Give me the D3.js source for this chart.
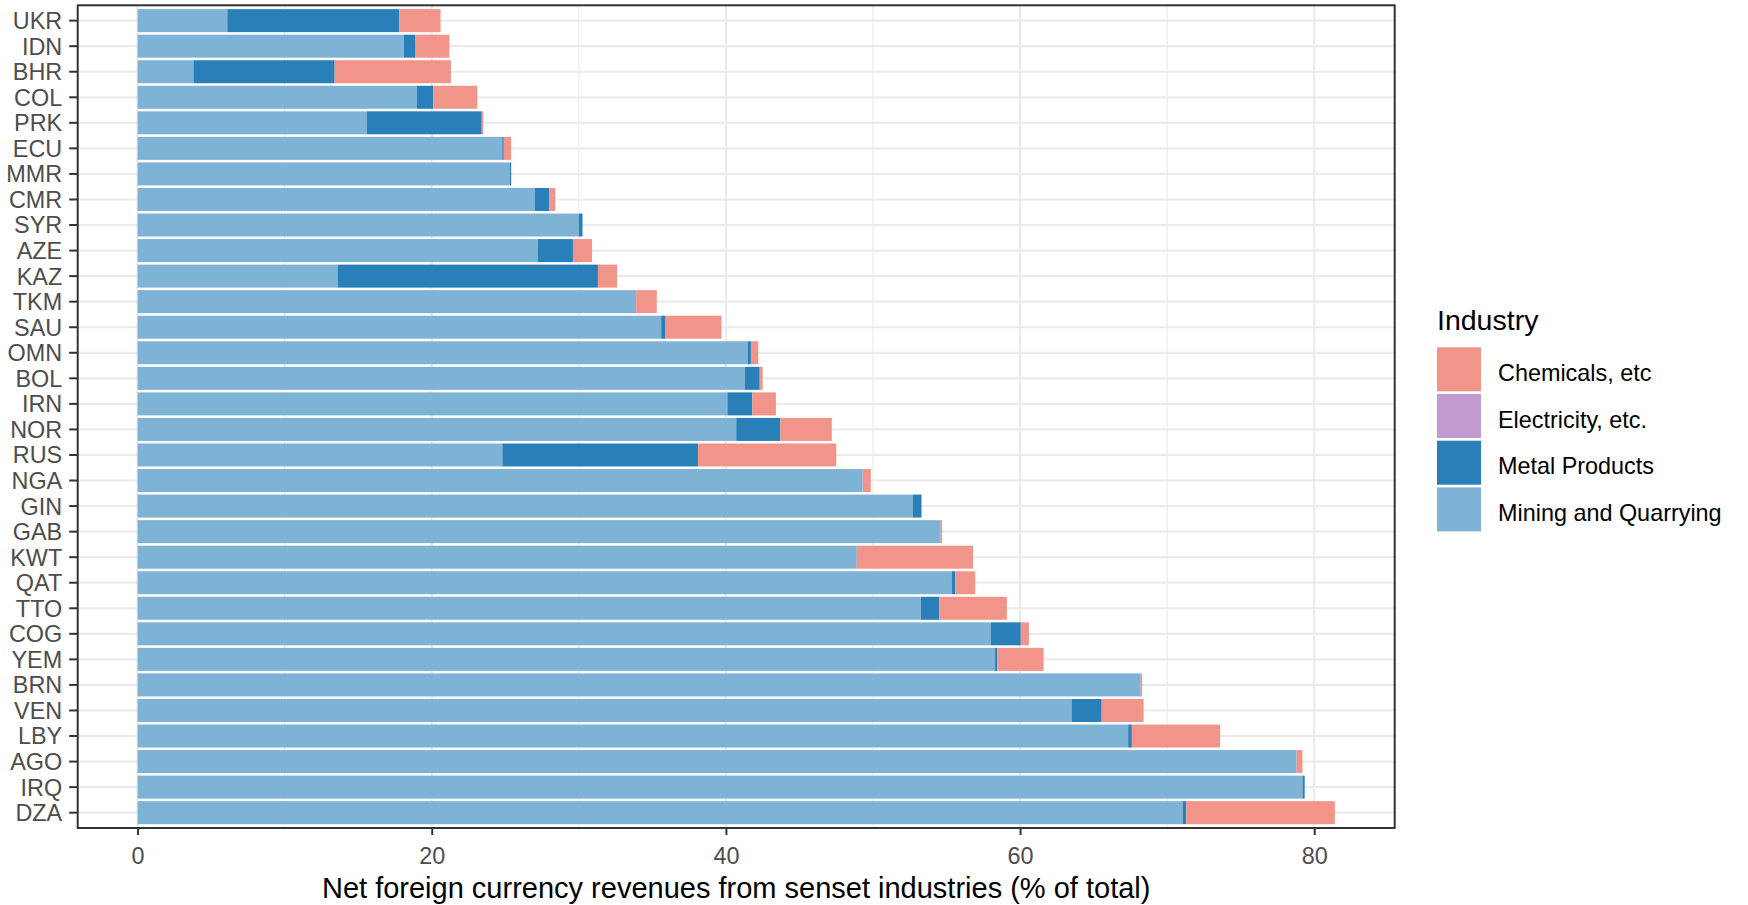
<!DOCTYPE html>
<html>
<head>
<meta charset="utf-8">
<script src="https://cdn.jsdelivr.net/npm/d3@7"></script>
<style>
  html, body { margin: 0; padding: 0; background: #ffffff; }
  svg { display: block; font-family: "Liberation Sans", Arial, sans-serif; }
</style>
</head>
<body>
<svg id="chart" width="1748" height="905"></svg>
<script>
// ---- Data ----
const countries = ["UKR","IDN","BHR","COL","PRK","ECU","MMR","CMR","SYR","AZE","KAZ","TKM","SAU","OMN","BOL","IRN","NOR","RUS","NGA","GIN","GAB","KWT","QAT","TTO","COG","YEM","BRN","VEN","LBY","AGO","IRQ","DZA"];
const mining      = [6.1,18.1,3.8,19.0,15.6,24.8,25.3,27.0,30.0,27.2,13.6,33.9,35.6,41.5,41.3,40.1,40.7,24.8,49.3,52.7,54.6,48.9,55.35,53.25,58.0,58.3,68.2,63.5,67.35,78.8,79.2,71.05];
const metal       = [11.7,0.8,9.6,1.1,7.8,0.1,0.1,1.0,0.25,2.4,17.7,0,0.3,0.2,1.0,1.7,3.0,13.3,0,0.6,0,0,0.25,1.25,2.05,0.15,0,2.05,0.25,0,0.15,0.25];
const electricity = [0,0,0,0,0,0,0,0,0,0,0,0,0,0,0,0,0,0,0,0,0,0,0,0,0,0,0,0,0,0,0,0];
const chemicals   = [2.8,2.3,7.9,3.0,0.1,0.5,0,0.4,0,1.3,1.3,1.4,3.8,0.5,0.2,1.6,3.5,9.4,0.55,0,0.1,7.9,1.35,4.6,0.55,3.15,0.1,2.85,6.0,0.4,0,10.1];
const industries  = ["Mining and Quarrying","Metal Products","Electricity, etc.","Chemicals, etc"];
const legendOrder = ["Chemicals, etc","Electricity, etc.","Metal Products","Mining and Quarrying"];
const xTicks      = [0,20,40,60,80];
const xMinor      = [10,30,50,70];
const colors = {
  "Mining and Quarrying": "#7FB3D5",
  "Metal Products": "#2980B9",
  "Electricity, etc.": "#C39BD3",
  "Chemicals, etc": "#F1948A"
};

const rows = countries.map((c, i) => ({
  country: c,
  "Mining and Quarrying": mining[i],
  "Metal Products": metal[i],
  "Electricity, etc.": electricity[i],
  "Chemicals, etc": chemicals[i]
}));

// ---- Layout ----
const svg = d3.select("#chart");
const panel = { left: 77.7, right: 1394.7, top: 5.3, bottom: 828 };
const fontAxis = 23.4, fontTitle = 29;

const stack = d3.stack().keys(industries);
const series = stack(rows);
const maxTotal = d3.max(rows, d => industries.reduce((s, k) => s + d[k], 0));

const x = d3.scaleLinear()
  .domain([-0.05 * maxTotal, maxTotal * 1.05])
  .range([panel.left, panel.right]);

const y = d3.scaleBand()
  .domain(countries)
  .range([panel.top, panel.bottom])
  .paddingInner(0.1)
  .paddingOuter(0.15);

// background
svg.append("rect").attr("x", 0).attr("y", 0).attr("width", 1748).attr("height", 905).attr("fill", "#fff");

// grid
const grid = svg.append("g");
grid.selectAll(".minor").data(xMinor).join("line")
  .attr("x1", d => x(d)).attr("x2", d => x(d))
  .attr("y1", panel.top).attr("y2", panel.bottom)
  .attr("stroke", "#EBEBEB").attr("stroke-width", 1.1);
grid.selectAll(".majorx").data(xTicks).join("line")
  .attr("x1", d => x(d)).attr("x2", d => x(d))
  .attr("y1", panel.top).attr("y2", panel.bottom)
  .attr("stroke", "#EBEBEB").attr("stroke-width", 2.2);
grid.selectAll(".majory").data(countries).join("line")
  .attr("x1", panel.left).attr("x2", panel.right)
  .attr("y1", d => y(d) + y.bandwidth() / 2).attr("y2", d => y(d) + y.bandwidth() / 2)
  .attr("stroke", "#EBEBEB").attr("stroke-width", 2.2);

// bars
svg.append("g").selectAll("g").data(series).join("g")
  .attr("fill", s => colors[s.key])
  .selectAll("rect").data(s => s).join("rect")
  .attr("x", d => x(d[0]))
  .attr("width", d => Math.max(0, x(d[1]) - x(d[0])))
  .attr("y", d => y(d.data.country))
  .attr("height", y.bandwidth());

// panel border
svg.append("rect")
  .attr("x", panel.left).attr("y", panel.top)
  .attr("width", panel.right - panel.left).attr("height", panel.bottom - panel.top)
  .attr("fill", "none").attr("stroke", "#333333").attr("stroke-width", 2);

// axes
const yAxis = svg.append("g")
  .attr("transform", `translate(${panel.left},0)`)
  .call(d3.axisLeft(y).tickSize(8.5).tickPadding(7));
yAxis.select(".domain").remove();
yAxis.selectAll(".tick line").attr("stroke", "#333333").attr("stroke-width", 2);
yAxis.selectAll(".tick text")
  .attr("fill", "#4D4D4D").attr("dy", "0.36em").style("font-size", fontAxis + "px")
  .style("font-family", "'Liberation Sans', Arial, sans-serif");

const xAxis = svg.append("g")
  .attr("transform", `translate(0,${panel.bottom})`)
  .call(d3.axisBottom(x).tickValues(xTicks).tickSize(7).tickPadding(12));
xAxis.select(".domain").remove();
xAxis.selectAll(".tick line").attr("stroke", "#333333").attr("stroke-width", 2);
xAxis.selectAll(".tick text")
  .attr("fill", "#4D4D4D").style("font-size", fontAxis + "px")
  .style("font-family", "'Liberation Sans', Arial, sans-serif");

// x axis title
svg.append("text")
  .attr("x", (panel.left + panel.right) / 2).attr("y", 898)
  .attr("text-anchor", "middle")
  .style("font-size", fontTitle + "px").attr("fill", "#000")
  .text("Net foreign currency revenues from senset industries (% of total)");

// legend
const lg = svg.append("g").attr("transform", "translate(1437,0)");
lg.append("text").attr("x", 0).attr("y", 330)
  .style("font-size", "28.5px").attr("fill", "#000").text("Industry");
const items = lg.selectAll(".item").data(legendOrder).join("g")
  .attr("transform", (d, i) => `translate(0,${347.3 + i * 46.7})`);
items.append("rect")
  .attr("width", 44).attr("height", 44)
  .attr("fill", d => colors[d]);
items.append("text")
  .attr("x", 61).attr("y", 25.5).attr("dy", "0.35em")
  .style("font-size", fontAxis + "px").attr("fill", "#000")
  .text(d => d);
</script>
</body>
</html>
